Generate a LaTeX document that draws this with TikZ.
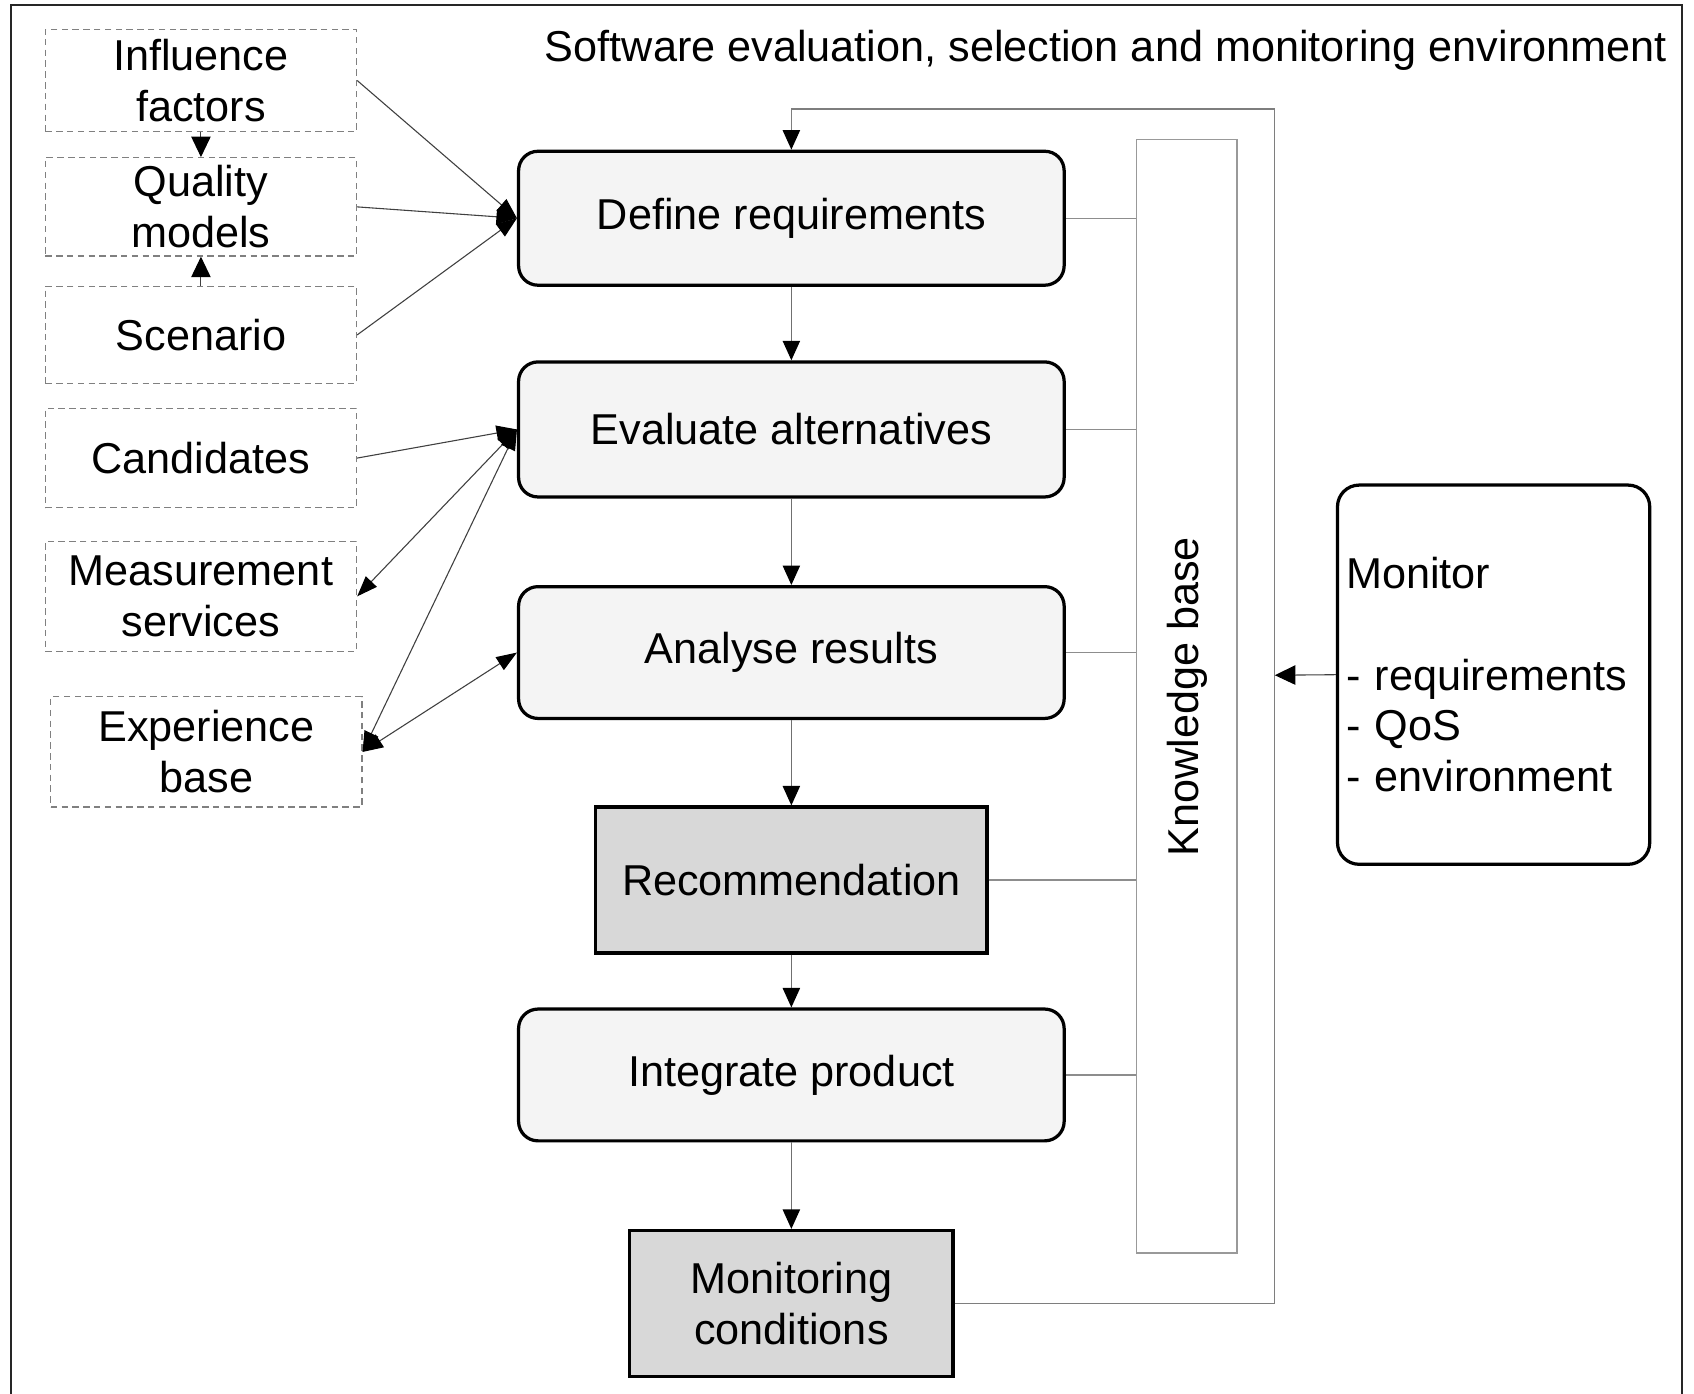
\documentclass[tikz,border=0pt]{standalone}
\usepackage{fontspec}
\setmainfont{Liberation Sans}
\usetikzlibrary{arrows.meta}
\definecolor{procfill}{HTML}{F4F4F4}
\definecolor{darkfill}{HTML}{D8D8D8}
\definecolor{dashgray}{HTML}{808080}
\definecolor{linegray}{HTML}{707070}
\definecolor{kbgray}{HTML}{999999}
\tikzset{
  every node/.style={font=\fontsize{40}{47}\selectfont, inner sep=0pt},
  inbox/.style={draw=dashgray, line width=1.2pt, dash pattern=on 6pt off 4pt, align=center, minimum width=288pt},
  procbox/.style={draw=black, line width=3pt, rounded corners=18pt, fill=procfill, minimum width=505pt, align=center},
  darkbox/.style={draw=black, line width=3pt, fill=darkfill, align=center},
  conn/.style={draw=black!75, line width=1pt, -{Triangle[length=19pt,width=14pt,black]}},
  dconn/.style={draw=black!75, line width=1pt, {Triangle[length=19pt,width=14pt,black]}-{Triangle[length=19pt,width=14pt,black]}},
  vconn/.style={draw=linegray, line width=1.2pt, -{Triangle[length=18pt,width=16pt,black]}},
  sconn/.style={draw=black!75, line width=1pt, -{Triangle[length=19pt,width=18pt,black]}},
  kbline/.style={draw=linegray!80, line width=1.2pt},
}
\begin{document}
\begin{tikzpicture}[x=1pt,y=-1pt]
\useasboundingbox (0,0) rectangle (1568,1290);
\fill[white] (0,0) rectangle (1568,1290);
% outer frame
\draw[line width=2pt, black!85] (10,1290) -- (10,5) -- (1557,5) -- (1557,1290);
% title
\node[anchor=base east] (title) at (1543,57) {Software evaluation, selection and monitoring environment};
% input boxes
\node[inbox, minimum height=95pt] (inf) at (186,74.5) {Influence\\factors};
\node[inbox, minimum height=91pt] (qual) at (186,191.5) {Quality\\models};
\node[inbox, minimum height=90pt] (scen) at (186,310) {Scenario};
\node[inbox, minimum height=92pt] (cand) at (186,424) {Candidates};
\node[inbox, minimum height=102pt] (meas) at (186,552) {Measurement\\services};
\node[inbox, minimum height=102pt] (exp) at (191,696) {Experience\\base};
% process boxes
\node[procbox, minimum height=124pt] (def) at (732.5,202) {Define requirements};
\node[procbox, minimum height=125pt] (eval) at (732.5,397.5) {Evaluate alternatives};
\node[procbox, minimum height=122pt] (ana) at (732.5,604) {Analyse results};
\node[darkbox, minimum width=362pt, minimum height=135pt] (rec) at (732.5,814.5) {Recommendation};
\node[procbox, minimum height=122pt] (integ) at (732.5,995) {Integrate product};
\node[darkbox, minimum width=299pt, minimum height=135pt] (mc) at (732.5,1206.5) {Monitoring\\conditions};
% knowledge base
\node[draw=kbgray, line width=1.5pt, minimum width=93pt, minimum height=1031pt] (kb) at (1098.5,644.5) {};
\node[rotate=90] (kbtext) at (1099,645) {Knowledge base};
% monitor
\node[draw=black, line width=3pt, rounded corners=20pt, fill=white, minimum height=351pt, text width=273pt, inner xsep=8pt, align=left] (mon) at (1382.5,624.5) {Monitor\\[0pt] \mbox{}\\- requirements\\- QoS\\- environment};
\coordinate (monin) at (1180,625);
% vertical flow
\draw[vconn] (def.south) -- (eval.north);
\draw[vconn] (eval.south) -- (ana.north);
\draw[vconn] (ana.south) -- (rec.north);
\draw[vconn] (rec.south) -- (integ.north);
\draw[vconn] (integ.south) -- (mc.north);
% lines to knowledge base
\draw[kbline] (def.east) -- (def.east -| kb.west);
\draw[kbline] (eval.east) -- (eval.east -| kb.west);
\draw[kbline] (ana.east) -- (ana.east -| kb.west);
\draw[kbline] (rec.east) -- (rec.east -| kb.west);
\draw[kbline] (integ.east) -- (integ.east -| kb.west);
% feedback loop
\draw[vconn, draw=linegray!90] (mc.east) -| (1180,101) -| (def.north);
\draw[sconn] (mon.west) -- (monin);
% input arrows
\draw[sconn] (inf.south) -- (qual.north);
\draw[sconn] (scen.north) -- (qual.south);
\draw[conn] (inf.east) -- (def.west);
\draw[conn] (qual.east) -- (def.west);
\draw[conn] (scen.east) -- (def.west);
\draw[conn] (cand.east) -- (eval.west);
\draw[dconn] (eval.west) -- (meas.east);
\draw[dconn] (eval.west) -- (exp.east);
\draw[dconn] (ana.west) -- (exp.east);
\end{tikzpicture}
\end{document}
